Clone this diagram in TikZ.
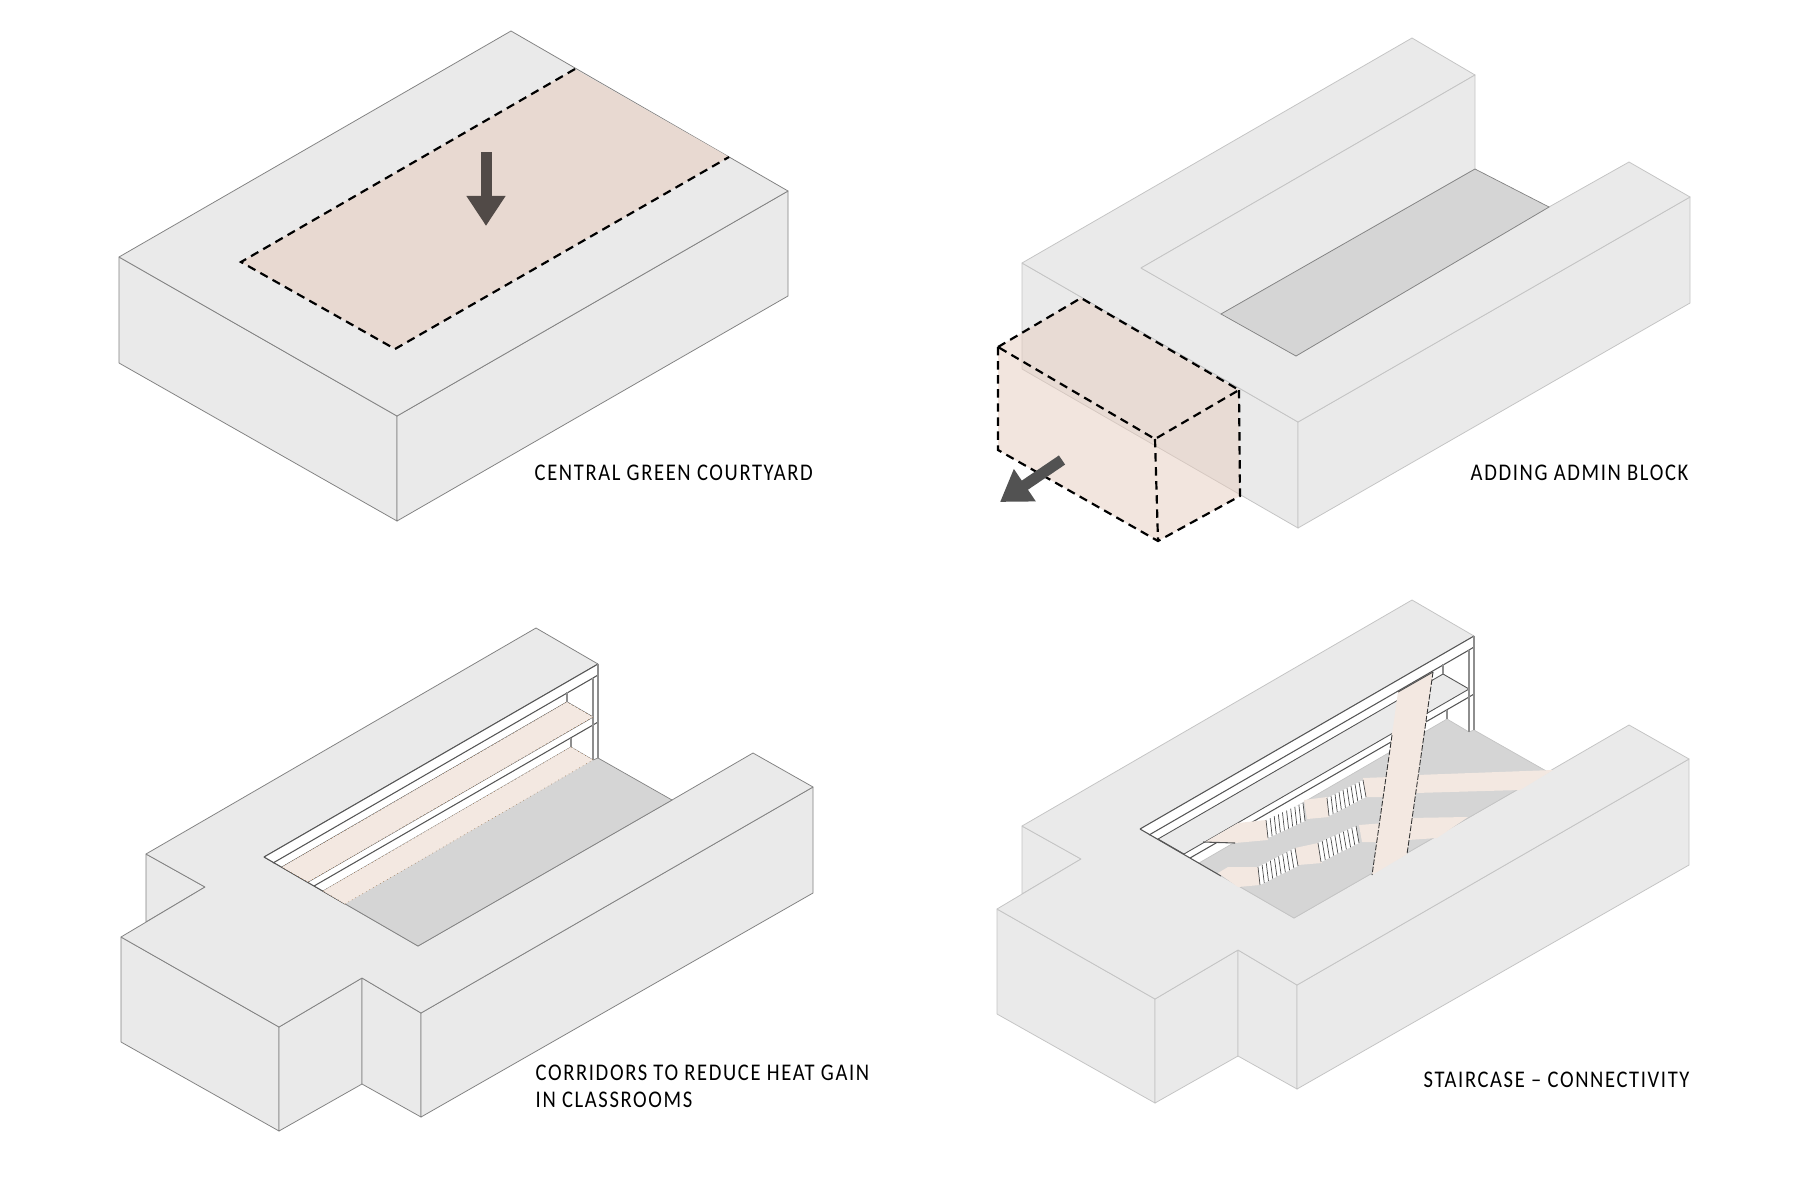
\documentclass[tikz,border=0pt]{standalone}
\usepackage{fontspec}
\usepackage{xcolor}
\usetikzlibrary{arrows.meta,calc}
\newfontfamily\captionfont[FakeStretch=.86,LetterSpace=6.8]{Carlito}
\definecolor{wallgray}{HTML}{EAEAEA}
\definecolor{floorgray}{HTML}{D5D5D5}
\definecolor{edgeink}{HTML}{828282}
\definecolor{edgesoft}{HTML}{C4C4C4}
\definecolor{lineink}{HTML}{555555}
\definecolor{postink}{HTML}{8E8E8E}
\definecolor{courtpink}{HTML}{E8D9D1}
\definecolor{blockpink}{HTML}{E7CDBF}
\definecolor{stairpink}{HTML}{F3E8E1}
\definecolor{arrowink}{HTML}{514A47}
\tikzset{
  >=Latex,
  face/.style={fill=wallgray,draw=edgeink,line width=.22pt,line join=round},
  softface/.style={fill=wallgray,draw=edgesoft,line width=.22pt,line join=round},
  floorpatch/.style={fill=floorgray,draw=edgeink,line width=.2pt},
  railline/.style={draw=lineink,line width=.3pt},
  postline/.style={draw=postink,line width=.3pt},
  dashline/.style={draw=black,line width=.62pt,dash pattern=on 2.4pt off 1.6pt},
  ghostface/.style={fill=blockpink,fill opacity=.5,draw=none},
  corridor/.style={fill=stairpink,draw=brown!70!black,line width=.15pt,densely dotted},
  stairpatch/.style={fill=stairpink,draw=none},
  stairedge/.style={draw=black!80,line width=.25pt,dash pattern=on 1.6pt off .5pt},
  tread/.style={draw=black!70,line width=.2pt},
  bigarrow/.style={-{Triangle[length=.3cm,width=.37cm]},line width=.11cm,draw=arrowink},
  caption/.style={font=\captionfont\fontsize{6.8}{7.4}\selectfont,anchor=west,text=black,align=left,inner sep=0pt}
}
\newcommand{\shellbody}{%
  \filldraw[face] (146,854) -- (205,887) -- (146,922) -- cycle;
  \filldraw[face] (121,937) -- (279,1027) -- (279,1131) -- (121,1042) -- cycle;
  \filldraw[face] (279,1027) -- (362,978) -- (362,1084) -- (279,1131) -- cycle;
  \filldraw[face] (362,978) -- (421,1013) -- (421,1117) -- (362,1084) -- cycle;
  \filldraw[face] (421,1013) -- (813,787) -- (813,893) -- (421,1117) -- cycle;
  \filldraw[face] (146,854) -- (536,628) -- (598,664) -- (264,857) -- (418,946) -- (672,800)
    -- (753,753) -- (813,787) -- (421,1013) -- (362,978) -- (279,1027) -- (121,937) -- (205,887) -- cycle;
  \fill[white] (264,857) -- (598,664) -- (598,758) -- (593,760) -- (345,904) -- cycle;
  \filldraw[floorpatch] (323,891) -- (571,747) -- (593,760) -- (598,758) -- (672,800) -- (418,946) -- cycle;
  \filldraw[fill=wallgray,draw=lineink,line width=.25pt] (282,867) -- (567,702) -- (593,717) -- (308,882) -- cycle;
  \draw[railline] (264,857) -- (598,664);
  \draw[railline] (273,863) -- (593,678) -- (598,675);
  \draw[railline] (314,886) -- (593,725) -- (598,722);
  \draw[postline] (598,664) -- (598,758);
  \draw[postline] (593,678) -- (593,760);
  \draw[postline] (567,692) -- (567,702);
  \draw[postline] (571,738) -- (571,747);
  \draw[railline] (264,857) -- (345,904);
}
\newcommand{\flight}[4]{%
  \fill[white] (#1) -- (#2) -- (#3) -- (#4) -- cycle;
  \foreach \i in {0,...,9} {
    \draw[tread] ($(#1)!\i/9!(#2)$) -- ($(#4)!\i/9!(#3)$);
  }
}
\begin{document}
\begin{tikzpicture}[x=0.01cm,y=-0.01cm]
  \useasboundingbox[fill=white] (0,0) rectangle (1800,1200);

  \filldraw[face] (119,257) -- (397,416) -- (397,521) -- (119,363) -- cycle;
  \filldraw[face] (397,416) -- (788,191) -- (788,296) -- (397,521) -- cycle;
  \filldraw[face] (119,257) -- (511,31) -- (788,191) -- (397,416) -- cycle;
  \fill[courtpink] (575,69) -- (729,157) -- (395,349) -- (241,262) -- cycle;
  \draw[dashline] (575,69) -- (241,262) -- (395,349) -- (729,157);
  \coordinate (downtail) at (486,152);
  \coordinate (downtip) at (486,226);
  \draw[bigarrow] (downtail) -- (downtip);
  \node[caption] (courtlabel) at (534,473) {CENTRAL GREEN COURTYARD};

  \filldraw[softface] (1022,263) -- (1298,422) -- (1298,528) -- (1022,369) -- cycle;
  \filldraw[softface] (1298,422) -- (1690,197) -- (1690,303) -- (1298,528) -- cycle;
  \filldraw[softface] (1022,263) -- (1412,38) -- (1475,75) -- (1141,268) -- (1296,356) -- (1549,207)
    -- (1629,162) -- (1690,197) -- (1298,422) -- cycle;
  \filldraw[softface] (1141,268) -- (1475,75) -- (1475,169) -- (1221,314) -- cycle;
  \filldraw[floorpatch] (1221,314) -- (1475,169) -- (1549,207) -- (1296,356) -- cycle;
  \fill[ghostface] (1081,298) -- (1239,390) -- (1155,439) -- (998,347) -- cycle;
  \fill[ghostface] (998,347) -- (1155,439) -- (1158,541) -- (998,450) -- cycle;
  \fill[ghostface] (1155,439) -- (1239,390) -- (1240,496) -- (1158,541) -- cycle;
  \draw[dashline] (998,347) -- (1081,298) -- (1239,390) -- (1155,439) -- cycle;
  \draw[dashline] (998,347) -- (998,450) -- (1158,541) -- (1240,496) -- (1239,390);
  \draw[dashline] (1155,439) -- (1158,541);
  \coordinate (pushtail) at (1062,460);
  \coordinate (pushtip) at (1000,502);
  \draw[bigarrow,draw=black!68] (pushtail) -- (pushtip);
  \node[caption] (adminlabel) at (1470,473) {ADDING ADMIN BLOCK};

  \shellbody
  \filldraw[corridor] (282,867) -- (567,702) -- (593,717) -- (308,882) -- cycle;
  \filldraw[corridor] (323,891) -- (571,747) -- (593,760) -- (345,904) -- cycle;
  \node[caption] (corridorlabel) at (535,1073) {CORRIDORS TO REDUCE HEAT GAIN};
  \node[caption] (classlabel) at (535,1100) {IN CLASSROOMS};

  \begin{scope}[shift={(876,-28)}]
    \colorlet{edgeink}{edgesoft}
    \shellbody
  \end{scope}
  \fill[stairpatch] (1417,775) -- (1553,770) -- (1520,790) -- (1415,793) -- cycle;
  \fill[stairpatch] (1408,818) -- (1468,817) -- (1437,838) -- (1408,840) -- cycle;
  \fill[stairpatch] (1363,778) -- (1390,777) -- (1390,797) -- (1366,797) -- cycle;
  \fill[stairpatch] (1304,800) -- (1327,797) -- (1329,817) -- (1307,819) -- cycle;
  \fill[stairpatch] (1205,842) -- (1238,823) -- (1266,820) -- (1268,840) -- (1235,843) -- cycle;
  \fill[stairpatch] (1359,825) -- (1385,823) -- (1385,842) -- (1362,842) -- cycle;
  \fill[stairpatch] (1295,848) -- (1318,843) -- (1322,863) -- (1298,865) -- cycle;
  \fill[stairpatch] (1218,873) -- (1228,867) -- (1258,867) -- (1260,885) -- (1238,887) -- cycle;
  \flight{1327,798}{1363,780}{1366,797}{1329,816}
  \flight{1266,820}{1303,803}{1305,821}{1268,838}
  \flight{1318,843}{1356,826}{1359,843}{1321,862}
  \flight{1258,867}{1295,848}{1298,866}{1260,885}
  \fill[stairpatch] (1398,692) -- (1433,672) -- (1407,854) -- (1372,875) -- cycle;
  \draw[railline] (1398,692) -- (1433,672);
  \draw[stairedge] (1392,735) -- (1372,875);
  \draw[stairedge] (1433,672) -- (1407,854);
  \draw[railline] (1203,842) -- (1235,843);
  \node[caption] (stairlabel) at (1423,1080) {STAIRCASE – CONNECTIVITY};
\end{tikzpicture}
\end{document}
